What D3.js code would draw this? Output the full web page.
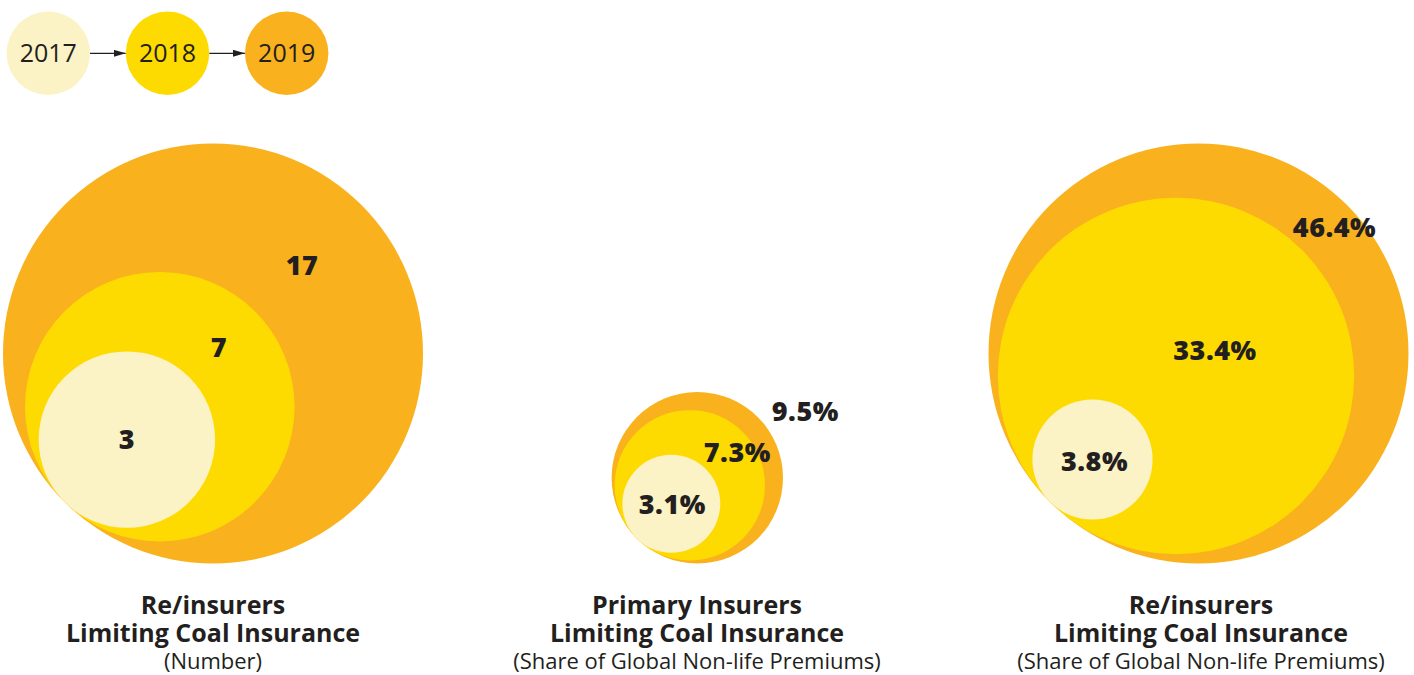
<!DOCTYPE html>
<html>
<head>
<meta charset="utf-8">
<script src="https://cdn.jsdelivr.net/npm/d3@7"></script>
<style>
  body { margin: 0; background: #fff; }
  svg { display: block; font-family: "Open Sans", "Noto Sans", sans-serif; }
</style>
</head>
<body>
<div id="chart"></div>
<script>
// data
var years = ["2017", "2018", "2019"];
var panelTitles = ["Re/insurers", "Primary Insurers", "Re/insurers"];
var panelSubtitles = ["Limiting Coal Insurance", "Limiting Coal Insurance", "Limiting Coal Insurance"];
var panelUnits = ["(Number)", "(Share of Global Non-life Premiums)", "(Share of Global Non-life Premiums)"];
var reinsurersNumber = [3, 7, 17];
var primaryShare = [3.1, 7.3, 9.5];
var reinsurersShare = [3.8, 33.4, 46.4];
var panelSuffix = ["", "%", "%"];

var panelValues = [reinsurersNumber, primaryShare, reinsurersShare];

var width = 1414, height = 675;
var colors = ["#fbf2c5", "#fddb00", "#f9b21e"];
var ink = "#231f20";

// layout for each panel: centre x, title x, largest radius, label nudges
var panels = [
    { cx: 213, tx: 213, maxR: 210, nudges: [[0, 0], [59, -59], [89, -88]] },
    { cx: 697.3, tx: 697, maxR: 85.7, nudges: [[1, 0], [47.5, -33], [108, -67]] },
    { cx: 1198.5, tx: 1201, maxR: 210, nudges: [[2, 2], [39, -26], [136, -126]] }
];
var circleBottom = 563.5;

var svg = d3.select("#chart").append("svg")
    .attr("width", width)
    .attr("height", height);

// legend
var legendX = d3.scalePoint().domain(years).range([48.3, 286.7]);
var legendR = 41.7, legendY = 53.3;

svg.append("defs").append("marker")
    .attr("id", "arrow")
    .attr("viewBox", "0 0 12 7")
    .attr("refX", 12)
    .attr("refY", 3.5)
    .attr("markerWidth", 12)
    .attr("markerHeight", 7)
    .attr("markerUnits", "userSpaceOnUse")
    .attr("orient", "auto")
    .append("path")
    .attr("d", "M0,0L12,3.5L0,7Z")
    .attr("fill", ink);

var legend = svg.append("g");
legend.selectAll("line")
    .data(years.slice(0, -1))
    .enter().append("line")
    .attr("x1", function (d) { return legendX(d) + legendR; })
    .attr("x2", function (d, i) { return legendX(years[i + 1]) - legendR; })
    .attr("y1", legendY)
    .attr("y2", legendY)
    .attr("stroke", ink)
    .attr("stroke-width", 1.2)
    .attr("marker-end", "url(#arrow)");

var lg = legend.selectAll("g")
    .data(years)
    .enter().append("g")
    .attr("transform", function (d) { return "translate(" + legendX(d) + "," + legendY + ")"; });
lg.append("circle")
    .attr("r", legendR)
    .attr("fill", function (d, i) { return colors[i]; });
lg.append("text")
    .attr("text-anchor", "middle")
    .attr("dy", "0.36em")
    .attr("font-size", 25)
    .attr("fill", ink)
    .text(function (d) { return d; });

// panels
var diag = Math.SQRT1_2;
panels.forEach(function (p, k) {
    var values = panelValues[k];
    var r = d3.scaleSqrt()
        .domain([0, d3.max(values)])
        .range([0, p.maxR]);
    var R = r(d3.max(values));
    var cy = circleBottom - R;

    // smaller circles touch the big one at its lower-left
    var nodes = values.map(function (v, i) {
        var ri = r(v);
        return {
            value: v,
            year: years[i],
            r: ri,
            x: p.cx - (R - ri) * diag,
            y: cy + (R - ri) * diag,
            nudge: p.nudges[i],
            color: colors[i]
        };
    });

    var g = svg.append("g");
    g.selectAll("circle")
        .data(nodes.slice().reverse())
        .enter().append("circle")
        .attr("cx", function (d) { return d.x; })
        .attr("cy", function (d) { return d.y; })
        .attr("r", function (d) { return d.r; })
        .attr("fill", function (d) { return d.color; });

    g.selectAll("text.value")
        .data(nodes)
        .enter().append("text")
        .attr("class", "value")
        .attr("x", function (d) { return d.x + d.nudge[0]; })
        .attr("y", function (d) { return d.y + d.nudge[1]; })
        .attr("dy", "0.36em")
        .attr("text-anchor", "middle")
        .attr("font-size", 27)
        .attr("font-weight", 800)
        .attr("letter-spacing", 0.5)
        .attr("fill", ink)
        .text(function (d) { return d.value + panelSuffix[k]; });

    var t = svg.append("g")
        .attr("text-anchor", "middle")
        .attr("fill", ink);
    t.append("text")
        .attr("x", p.tx)
        .attr("y", 614)
        .attr("font-size", 25)
        .attr("font-weight", 700)
        .text(panelTitles[k]);
    t.append("text")
        .attr("x", p.tx)
        .attr("y", 642)
        .attr("font-size", 25)
        .attr("font-weight", 700)
        .text(panelSubtitles[k]);
    t.append("text")
        .attr("x", p.tx)
        .attr("y", 669)
        .attr("font-size", 22)
        .text(panelUnits[k]);
});
</script>
</body>
</html>
